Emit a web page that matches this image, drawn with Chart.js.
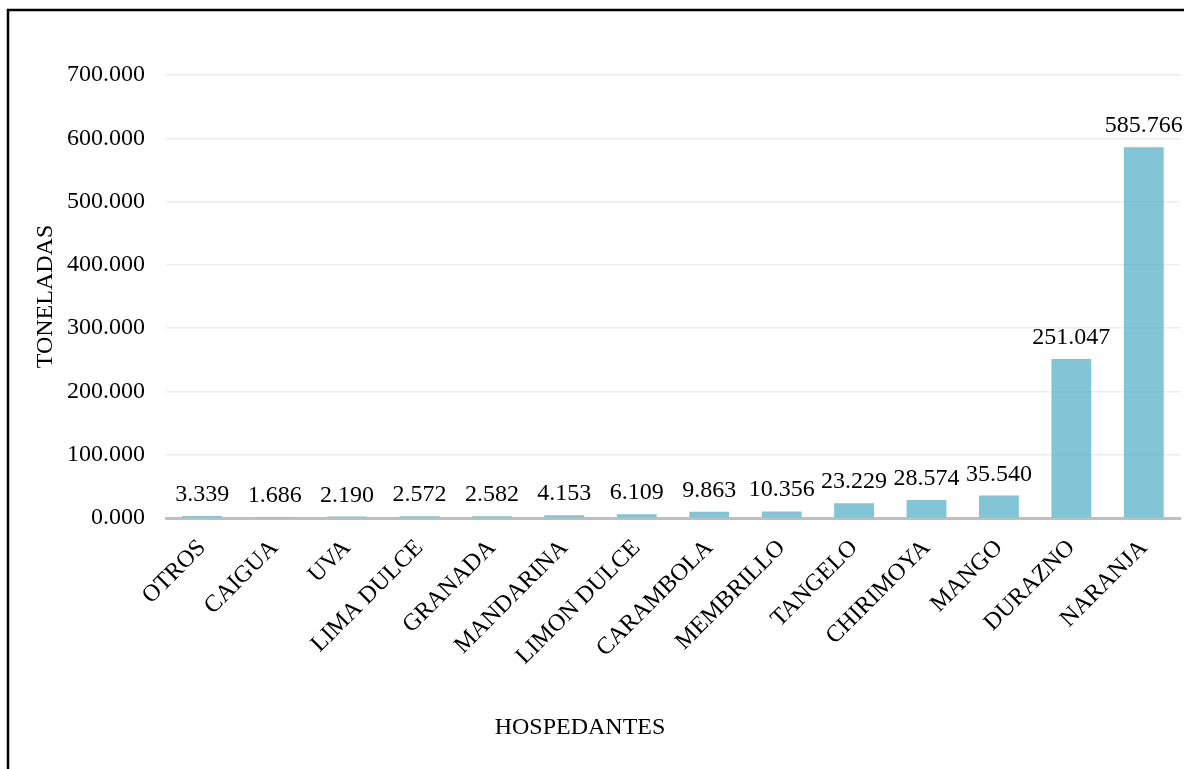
<!DOCTYPE html>
<html lang="es">
<head>
<meta charset="utf-8">
<title>Toneladas por hospedante</title>
<script src="https://cdn.jsdelivr.net/npm/chart.js@4/dist/chart.umd.min.js"></script>
<style>
  html, body { margin: 0; padding: 0; background: #ffffff; }
  #wrap { position: relative; width: 1184px; height: 769px; }
  canvas { display: block; }
</style>
</head>
<body>
<div id="wrap"><canvas id="chart" width="1184" height="769"></canvas></div>
<script>
// Hospedantes y toneladas registradas
const categories = [
  'OTROS', 'CAIGUA', 'UVA', 'LIMA DULCE', 'GRANADA', 'MANDARINA', 'LIMON DULCE',
  'CARAMBOLA', 'MEMBRILLO', 'TANGELO', 'CHIRIMOYA', 'MANGO', 'DURAZNO', 'NARANJA'
];
const toneladas = [
  3.339, 1.686, 2.190, 2.572, 2.582, 4.153, 6.109,
  9.863, 10.356, 23.229, 28.574, 35.540, 251.047, 585.766
];
const yTicks = [0, 100, 200, 300, 400, 500, 600, 700];
const xTitle = 'HOSPEDANTES';
const yTitle = 'TONELADAS';

const FONT = "'Liberation Serif', 'Times New Roman', serif";
const fmt = v => v.toFixed(3);

// White background and the frame lines around the figure
const framePlugin = {
  id: 'frame',
  beforeDraw(chart) {
    const ctx = chart.ctx;
    ctx.save();
    ctx.fillStyle = '#ffffff';
    ctx.fillRect(0, 0, chart.width, chart.height);
    ctx.strokeStyle = '#000000';
    ctx.lineWidth = 2.5;
    ctx.beginPath();
    ctx.moveTo(8, chart.height + 5);
    ctx.lineTo(8, 10);
    ctx.lineTo(chart.width + 5, 10);
    ctx.stroke();
    ctx.restore();
  }
};

// Value labels above each bar, and the horizontal axis title centred on the figure
const valueLabels = {
  id: 'valueLabels',
  afterDatasetsDraw(chart) {
    const ctx = chart.ctx;
    const meta = chart.getDatasetMeta(0);
    const data = chart.data.datasets[0].data;
    ctx.save();
    ctx.font = '24px ' + FONT;
    ctx.fillStyle = '#000000';
    ctx.textAlign = 'center';
    ctx.textBaseline = 'alphabetic';
    meta.data.forEach((bar, i) => {
      ctx.fillText(fmt(data[i]), bar.x, bar.y - 15);
    });
    ctx.textBaseline = 'middle';
    ctx.fillText(xTitle, 580, 728);
    ctx.restore();
  }
};

new Chart(document.getElementById('chart'), {
  type: 'bar',
  data: {
    labels: categories,
    datasets: [{
      data: toneladas,
      backgroundColor: 'rgba(75, 172, 198, 0.7)',
      borderWidth: 0,
      barPercentage: 0.55,
      categoryPercentage: 1.0
    }]
  },
  options: {
    responsive: false,
    animation: false,
    devicePixelRatio: 1,
    layout: { padding: { top: 75, left: 27, right: 4, bottom: 24 } },
    plugins: {
      legend: { display: false },
      tooltip: { enabled: false }
    },
    scales: {
      x: {
        grid: { display: false },
        border: { display: true, color: '#bfbfbf', width: 3 },
        ticks: {
          color: '#000000',
          font: { family: FONT, size: 24 },
          minRotation: 45,
          maxRotation: 45,
          autoSkip: false,
          padding: 8
        },
        title: { display: false },
        afterFit(scale) { scale.height = 227; }
      },
      y: {
        min: yTicks[0],
        max: yTicks[yTicks.length - 1],
        afterBuildTicks(scale) { scale.ticks = yTicks.map(v => ({ value: v })); },
        grid: {
          drawTicks: false,
          color: ctx => (ctx.tick && ctx.tick.value === 0) ? 'rgba(0,0,0,0)' : '#ededed',
          lineWidth: 1.5
        },
        border: { display: false },
        ticks: {
          color: '#000000',
          font: { family: FONT, size: 24 },
          padding: 21,
          callback: v => fmt(v)
        },
        title: {
          display: true,
          text: yTitle,
          color: '#000000',
          font: { family: FONT, size: 24 },
          padding: { top: 4, bottom: 4 }
        },
        afterFit(scale) { scale.width = 139; }
      }
    }
  },
  plugins: [framePlugin, valueLabels]
});
</script>
</body>
</html>
